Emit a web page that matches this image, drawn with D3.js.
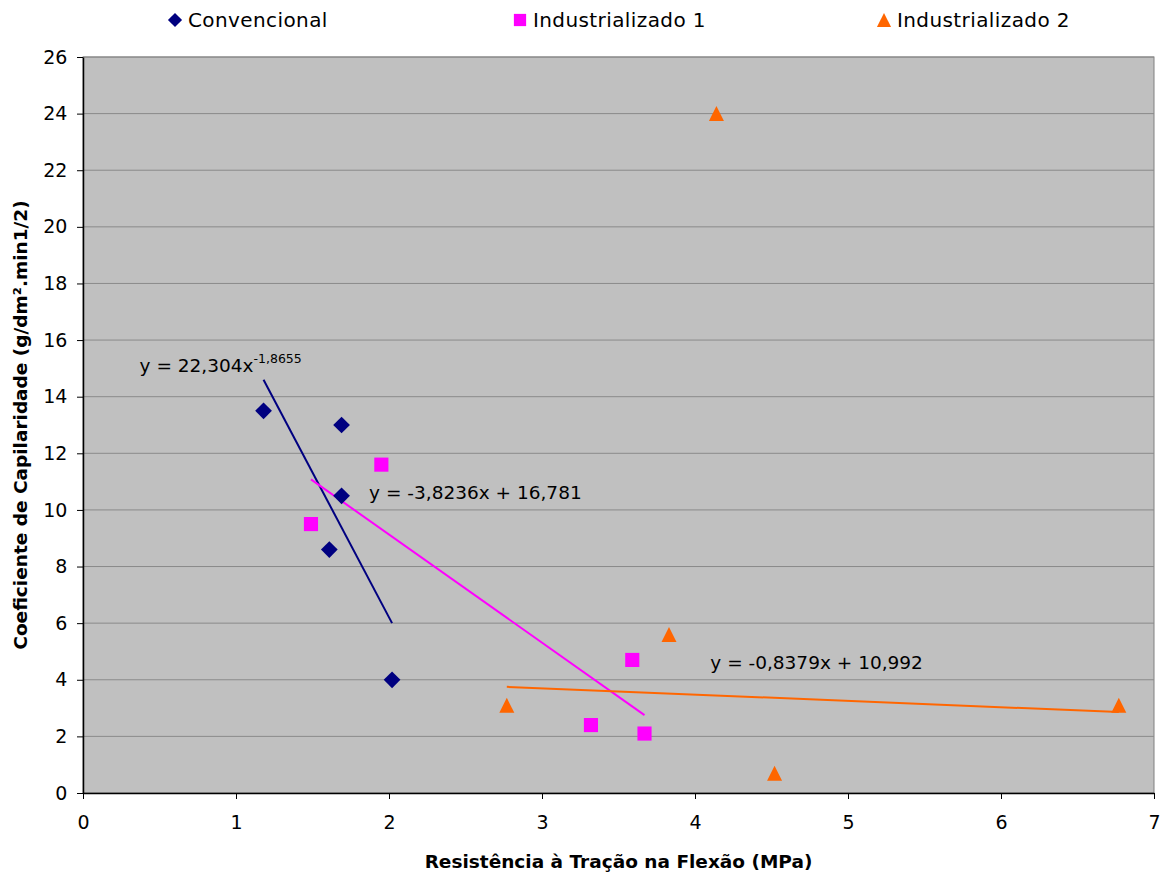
<!DOCTYPE html>
<html>
<head>
<meta charset="utf-8">
<script src="https://cdn.jsdelivr.net/npm/d3@7"></script>
<style>
  body { margin: 0; background: #fff; }
  svg { font-family: "DejaVu Sans", sans-serif; }
</style>
</head>
<body>
<svg id="chart" width="1165" height="875"></svg>
<script>
// Excel-like triangle: bbox centred on the point, width == height
const excelTriangle = {
  draw(context, size) {
    const h = Math.sqrt(size) / 2;
    context.moveTo(0, -h);
    context.lineTo(h, h);
    context.lineTo(-h, h);
    context.closePath();
  },
};

const seriesNames = ["Convencional", "Industrializado 1", "Industrializado 2"];
const seriesColors = ["#000080", "#FF00FF", "#FF6600"];
const seriesShapes = [d3.symbolSquare, d3.symbolSquare, excelTriangle];
const seriesRotate = [45, 0, 0];

const convencional = [[1.18, 13.5], [1.69, 13.0], [1.69, 10.5], [1.61, 8.6], [2.02, 4.0]];
const industrializado1 = [[1.95, 11.6], [1.49, 9.5], [3.32, 2.4], [3.59, 4.7], [3.67, 2.1]];
const industrializado2 = [[4.14, 24.0], [3.83, 5.6], [2.77, 3.1], [4.52, 0.7], [6.77, 3.1]];
const seriesPoints = [convencional, industrializado1, industrializado2];

// trendline endpoints as drawn in the picture
const trendConv = [[1.18, 14.6], [2.02, 6.0]];
const trendInd1 = [[1.49, 11.08], [3.67, 2.75]];
const trendInd2 = [[2.77, 3.75], [6.77, 2.86]];
const trendLines = [trendConv, trendInd1, trendInd2];

const xTicks = [0, 1, 2, 3, 4, 5, 6, 7];
const yTicks = [0, 2, 4, 6, 8, 10, 12, 14, 16, 18, 20, 22, 24, 26];

const svg = d3.select("#chart");
const margin = { left: 83, top: 57, right: 1154, bottom: 793 };

const x = d3.scaleLinear().domain([0, 7]).range([margin.left, margin.right]);
const y = d3.scaleLinear().domain([0, 26]).range([margin.bottom, margin.top]);

svg.append("rect")
  .attr("x", margin.left).attr("y", margin.top)
  .attr("width", margin.right - margin.left).attr("height", margin.bottom - margin.top)
  .attr("fill", "#C0C0C0").attr("stroke", "#808080").attr("stroke-width", 1);

svg.append("g").selectAll("line")
  .data(yTicks.filter((d) => d > 0))
  .join("line")
  .attr("x1", margin.left).attr("x2", margin.right)
  .attr("y1", (d) => y(d)).attr("y2", (d) => y(d))
  .attr("stroke", "#8a8a8a").attr("stroke-width", 1);

const xAxis = svg.append("g")
  .attr("transform", `translate(0,${margin.bottom})`)
  .call(d3.axisBottom(x).tickValues(xTicks).tickFormat(d3.format("d")).tickSize(6).tickSizeOuter(0));
const yAxis = svg.append("g")
  .attr("transform", `translate(${margin.left},0)`)
  .call(d3.axisLeft(y).tickValues(yTicks).tickFormat(d3.format("d")).tickSize(6).tickSizeOuter(0));

[xAxis, yAxis].forEach((g) => {
  g.select(".domain").attr("stroke", "#000").attr("stroke-width", 1.5);
  g.selectAll(".tick line").attr("stroke", "#000");
  g.selectAll(".tick text").attr("font-size", 19).attr("fill", "#000")
    .attr("font-family", "DejaVu Sans, sans-serif");
});
xAxis.selectAll(".tick text").attr("dy", "1.4em");
yAxis.selectAll(".tick text").attr("dx", "-0.35em");

const line = d3.line().x((d) => x(d[0])).y((d) => y(d[1]));
svg.append("g").selectAll("path")
  .data(trendLines)
  .join("path")
  .attr("d", line)
  .attr("fill", "none")
  .attr("stroke", (d, i) => seriesColors[i])
  .attr("stroke-width", 2);

seriesPoints.forEach((pts, i) => {
  const size = i === 0 ? 140 : i === 1 ? 200 : 225;
  svg.append("g").selectAll("path")
    .data(pts)
    .join("path")
    .attr("transform", (d) => `translate(${x(d[0])},${y(d[1])}) rotate(${seriesRotate[i]})`)
    .attr("d", d3.symbol().type(seriesShapes[i]).size(size))
    .attr("fill", seriesColors[i]);
});

// equation labels
const eq = svg.append("g").attr("font-size", 18.5).attr("fill", "#000");
const t1 = eq.append("text").attr("x", x(0.37)).attr("y", y(14.87));
t1.append("tspan").text("y = 22,304x");
t1.append("tspan").attr("font-size", 12.5).attr("dy", -9).text("-1,8655");
eq.append("text").attr("x", x(1.87)).attr("y", y(10.39)).text("y = -3,8236x + 16,781");
eq.append("text").attr("x", x(4.1)).attr("y", y(4.38)).text("y = -0,8379x + 10,992");

// legend
const legendX = [175, 520, 884];
const legend = svg.append("g");
seriesNames.forEach((name, i) => {
  const g = legend.append("g").attr("transform", `translate(${legendX[i]},20)`);
  g.append("path")
    .attr("transform", `rotate(${seriesRotate[i]})`)
    .attr("d", d3.symbol().type(seriesShapes[i]).size(i === 0 ? 100 : i === 1 ? 150 : 200))
    .attr("fill", seriesColors[i]);
  g.append("text").attr("x", 13).attr("y", 7).attr("font-size", 20)
    .attr("letter-spacing", 0.4).attr("fill", "#000").text(name);
});

// axis titles
svg.append("text")
  .attr("x", (margin.left + margin.right) / 2).attr("y", 868)
  .attr("text-anchor", "middle").attr("font-size", 18.5).attr("font-weight", "bold")
  .text("Resistência à Tração na Flexão (MPa)");
svg.append("text")
  .attr("transform", `translate(27,${(margin.top + margin.bottom) / 2}) rotate(-90)`)
  .attr("text-anchor", "middle").attr("font-size", 18.5).attr("font-weight", "bold")
  .text("Coeficiente de Capilaridade (g/dm².min1/2)");
</script>
</body>
</html>
